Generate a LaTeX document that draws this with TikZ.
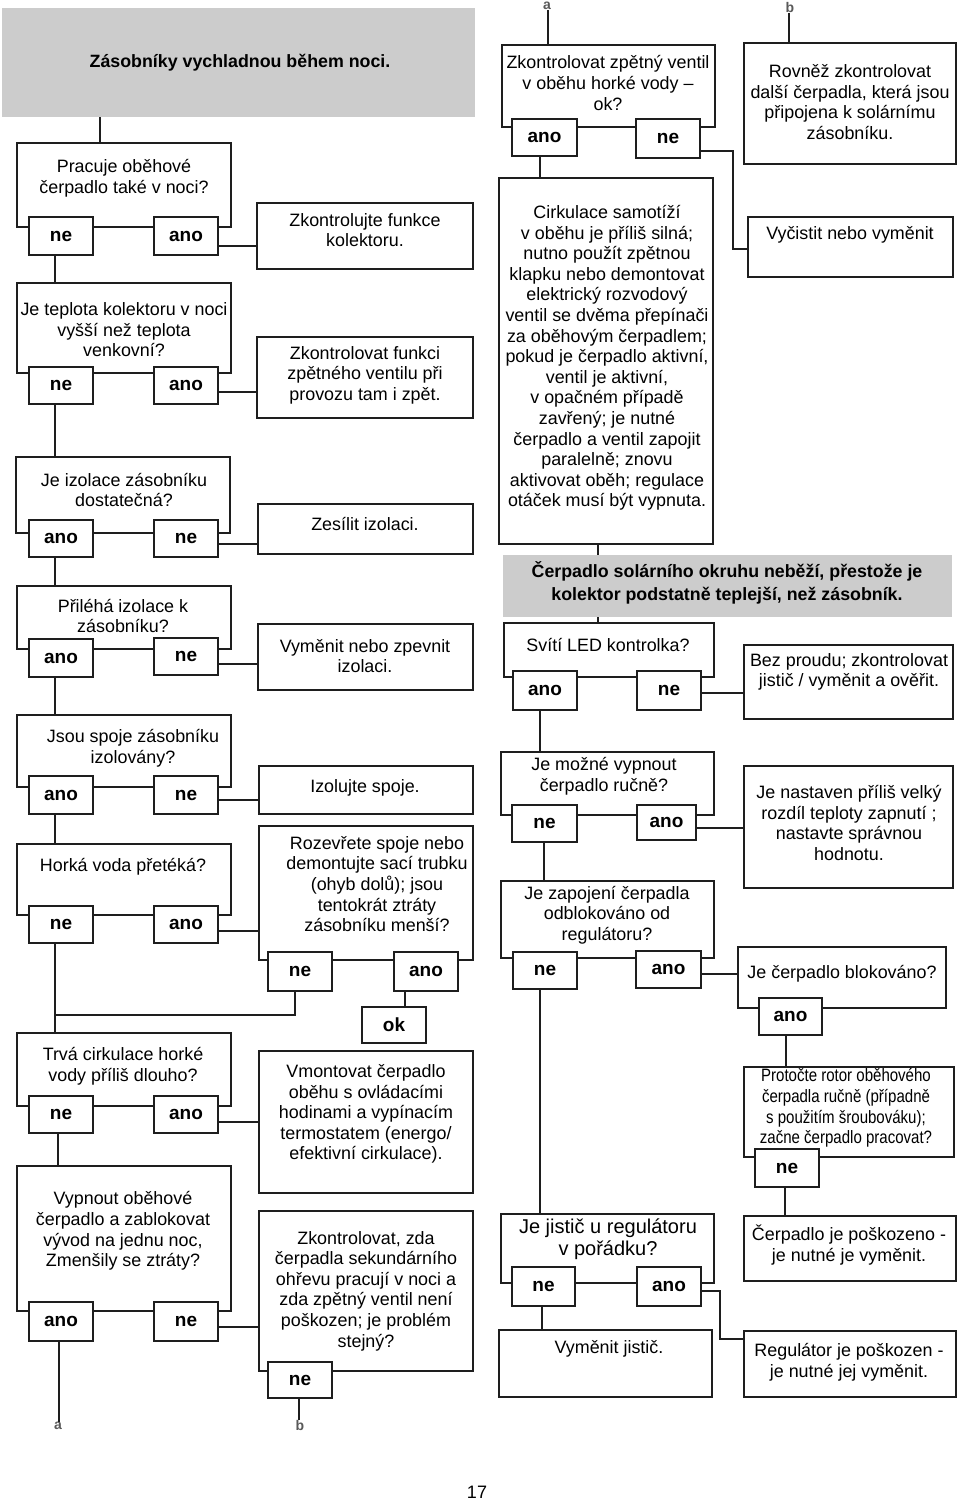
\documentclass[tikz,border=0pt]{standalone}
\usepackage{fontspec}
\setmainfont{Liberation Sans}
\newfontfamily\condfont{Liberation Sans}[FakeStretch=0.84]
\usetikzlibrary{fit}
\definecolor{grayfill}{RGB}{204,204,204}
\definecolor{linec}{RGB}{30,30,30}
\newcommand\LB[6]{%
  \pgfmathsetmacro\lbw{#4-#2}\pgfmathsetmacro\lbh{#5-#3}%
  \pgfmathsetmacro\lbx{(#2+#4)/2}\pgfmathsetmacro\lby{(#3+#5)/2}%
  \node[lbl,minimum width=\lbw pt,minimum height=\lbh pt] (#1) at (\lbx,\lby) {#6};}
\begin{document}
\begin{tikzpicture}[x=1pt,y=-1pt,
  box/.style={draw=linec,line width=1.6pt,inner sep=0pt},
  graybox/.style={fill=grayfill,inner sep=0pt},
  lbl/.style={draw=linec,fill=white,line width=1.6pt,inner sep=0pt,font=\fontsize{19}{22}\selectfont\bfseries},
  txt/.style={align=center,inner sep=0pt,font=\fontsize{17.9}{20.6}\selectfont},
  ttl/.style={align=center,inner sep=0pt,font=\fontsize{17.8}{23}\selectfont\bfseries},
  cond/.style={align=center,inner sep=0pt,font={\condfont\fontsize{17.9}{20.6}\selectfont}},
  big/.style={align=center,inner sep=0pt,font=\fontsize{20}{22}\selectfont},
  conn/.style={draw=linec,line width=1.6pt},
  jmark/.style={inner sep=0pt,text=black!65,font=\fontsize{14}{14}\selectfont\bfseries}
]
\useasboundingbox (0,0) rectangle (960,1503);

% ---------------- main boxes (left column) ----------------
\node[graybox,fit={(2,8)(475,117)}] (G1) {};
\node[ttl] (G1t) at (240,63) {Zásobníky vychladnou během noci.};

\node[box,fit={(17,143)(231,227)}] (B1) {};
\node[txt] (B1t) at (124,178) {Pracuje oběhové\\čerpadlo také v noci?};
\node[box,fit={(257,203)(473,269)}] (Kol) {};
\node[txt] (Kolt) at (365,230) {Zkontrolujte funkce\\kolektoru.};

\node[box,fit={(17,283)(231,373)}] (B2) {};
\node[txt] (B2t) at (124,330) {Je teplota kolektoru v noci\\vyšší než teplota\\venkovní?};
\node[box,fit={(257,337)(473,418)}] (Zpet) {};
\node[txt] (Zpett) at (365,375) {Zkontrolovat funkci\\zpětného ventilu při\\provozu tam i zpět.};

\node[box,fit={(16,457)(230,533)}] (B3) {};
\node[txt] (B3t) at (124,490) {Je izolace zásobníku\\dostatečná?};
\node[box,fit={(258,504)(473,554)}] (Zes) {};
\node[txt] (Zest) at (365,524) {Zesílit izolaci.};

\node[box,fit={(17,586)(231,649)}] (B4) {};
\node[txt] (B4t) at (123,616) {Přiléhá izolace k\\zásobníku?};
\node[box,fit={(258,624)(473,690)}] (Vym) {};
\node[txt] (Vymt) at (365,656) {Vyměnit nebo zpevnit\\izolaci.};

\node[box,fit={(17,715)(231,787)}] (B5) {};
\node[txt] (B5t) at (133,748) {Jsou spoje zásobníku\\izolovány?};
\node[box,fit={(259,766)(473,814)}] (Izo) {};
\node[txt] (Izot) at (365,788) {Izolujte spoje.};

\node[box,fit={(17,844)(231,915)}] (B6) {};
\node[txt] (B6t) at (123,867) {Horká voda přetéká?};
\node[box,fit={(259,826)(473,960)}] (B7) {};
\node[txt] (B7t) at (377,884) {Rozevřete spoje nebo\\demontujte sací trubku\\(ohyb dolů); jsou\\tentokrát ztráty\\zásobníku menší?};

\node[box,fit={(17,1033)(231,1106)}] (B8) {};
\node[txt] (B8t) at (123,1066) {Trvá cirkulace horké\\vody příliš dlouho?};
\node[box,fit={(259,1051)(473,1193)}] (Vmo) {};
\node[txt] (Vmot) at (366,1114) {Vmontovat čerpadlo\\oběhu s ovládacími\\hodinami a vypínacím\\termostatem (energo/\\efektivní cirkulace).};

\node[box,fit={(17,1166)(231,1311)}] (B9) {};
\node[txt] (B9t) at (123,1231) {Vypnout oběhové\\čerpadlo a zablokovat\\vývod na jednu noc,\\Zmenšily se ztráty?};
\node[box,fit={(259,1211)(473,1371)}] (B10) {};
\node[txt] (B10t) at (366,1291) {Zkontrolovat, zda\\čerpadla sekundárního\\ohřevu pracují v noci a\\zda zpětný ventil není\\poškozen; je problém\\stejný?};

% ---------------- main boxes (right column) ----------------
\node[box,fit={(502,45)(715,127)}] (B11) {};
\node[txt] (B11t) at (608,83) {Zkontrolovat zpětný ventil\\v oběhu horké vody –\\ok?};
\node[box,fit={(744,43)(956,164)}] (B14) {};
\node[txt] (B14t) at (850,102) {Rovněž zkontrolovat\\další čerpadla, která jsou\\připojena k solárnímu\\zásobníku.};

\node[box,fit={(499,178)(713,544)}] (B12) {};
\node[txt] (B12t) at (607,358) {Cirkulace samotíží\\v oběhu je příliš silná;\\nutno použít zpětnou\\klapku nebo demontovat\\elektrický rozvodový\\ventil se dvěma přepínači\\za oběhovým čerpadlem;\\pokud je čerpadlo aktivní,\\ventil je aktivní,\\v opačném případě\\zavřený; je nutné\\čerpadlo a ventil zapojit\\paralelně; znovu\\aktivovat oběh; regulace\\otáček musí být vypnuta.};
\node[box,fit={(748,217)(953,277)}] (B13) {};
\node[txt] (B13t) at (850,235) {Vyčistit nebo vyměnit};

\node[graybox,fit={(503,555)(952,617)}] (G2) {};
\node[ttl] (G2t) at (727,583) {Čerpadlo solárního okruhu neběží, přestože je\\kolektor podstatně teplejší, než zásobník.};

\node[box,fit={(504,623)(714,677)}] (B15) {};
\node[txt] (B15t) at (608,645) {Svítí LED kontrolka?};
\node[box,fit={(744,645)(953,719)}] (B16) {};
\node[txt] (B16t) at (849,672) {Bez proudu; zkontrolovat\\jistič / vyměnit a ověřit.};

\node[box,fit={(501,752)(714,815)}] (B17) {};
\node[txt] (B17t) at (604,776) {Je možné vypnout\\čerpadlo ručně?};
\node[box,fit={(744,766)(953,888)}] (B18) {};
\node[txt] (B18t) at (849,823) {Je nastaven příliš velký\\rozdíl teploty zapnutí ;\\nastavte správnou\\hodnotu.};

\node[box,fit={(501,881)(714,958)}] (B19) {};
\node[txt] (B19t) at (607,915) {Je zapojení čerpadla\\odblokováno od\\regulátoru?};
\node[box,fit={(738,947)(946,1008)}] (B20) {};
\node[txt] (B20t) at (842,974) {Je čerpadlo blokováno?};

\node[box,fit={(744,1067)(954,1157)}] (B21) {};
\node[cond] (B21t) at (846,1108) {Protočte rotor oběhového\\čerpadla ručně (případně\\s použitím šroubováku);\\začne čerpadlo pracovat?};
\node[box,fit={(744,1216)(956,1281)}] (B22) {};
\node[txt] (B22t) at (849,1245) {Čerpadlo je poškozeno -\\je nutné je vyměnit.};

\node[box,fit={(501,1214)(714,1283)}] (B23) {};
\node[big] (B23t) at (608,1239) {Je jistič u regulátoru\\v pořádku?};
\node[box,fit={(499,1330)(712,1397)}] (B24) {};
\node[txt] (B24t) at (609,1349) {Vyměnit jistič.};
\node[box,fit={(744,1331)(956,1397)}] (B25) {};
\node[txt] (B25t) at (849,1362) {Regulátor je poškozen -\\je nutné jej vyměnit.};

% ---------------- answer labels ----------------
\LB{L1ne}{29}{217}{93}{255}{ne}
\LB{L1ano}{154}{217}{218}{255}{ano}
\LB{L2ne}{29}{367}{93}{404}{ne}
\LB{L2ano}{154}{367}{218}{404}{ano}
\LB{L3ano}{29}{520}{93}{557}{ano}
\LB{L3ne}{154}{520}{218}{557}{ne}
\LB{L4ano}{29}{639}{93}{677}{ano}
\LB{L4ne}{154}{638}{218}{675}{ne}
\LB{L5ano}{29}{776}{93}{814}{ano}
\LB{L5ne}{154}{776}{218}{814}{ne}
\LB{L6ne}{29}{906}{93}{943}{ne}
\LB{L6ano}{154}{906}{218}{943}{ano}
\LB{L7ne}{268}{952}{332}{991}{ne}
\LB{L7ano}{394}{952}{458}{991}{ano}
\LB{ok}{362}{1007}{426}{1043}{ok}
\LB{L8ne}{29}{1096}{93}{1133}{ne}
\LB{L8ano}{154}{1096}{218}{1133}{ano}
\LB{L9ano}{29}{1302}{93}{1341}{ano}
\LB{L9ne}{154}{1302}{218}{1341}{ne}
\LB{L10ne}{268}{1362}{332}{1398}{ne}

\LB{L11ano}{512}{119}{577}{156}{ano}
\LB{L11ne}{636}{119}{700}{158}{ne}
\LB{L15ano}{513}{671}{577}{710}{ano}
\LB{L15ne}{637}{671}{701}{710}{ne}
\LB{L17ne}{512}{805}{577}{842}{ne}
\LB{L17ano}{637}{805}{696}{840}{ano}
\LB{L19ne}{513}{952}{577}{989}{ne}
\LB{L19ano}{636}{951}{701}{988}{ano}
\LB{L20ano}{759}{998}{822}{1035}{ano}
\LB{L21ne}{755}{1149}{819}{1187}{ne}
\LB{L23ne}{512}{1267}{575}{1306}{ne}
\LB{L23ano}{637}{1267}{701}{1306}{ano}

% ---------------- jump marks ----------------
\node[jmark,anchor=north] (aTop) at (547,2) {a};
\node[jmark,anchor=north] (bTop) at (790,2) {b};
\node[jmark,anchor=north] (aBot) at (58,1422) {a};
\node[jmark,anchor=north] (bBot) at (300,1420) {b};
\node[inner sep=0pt,font=\fontsize{18}{18}\selectfont] (page) at (477,1492) {17};
\coordinate (J) at (55,1015);

% ---------------- connectors (left) ----------------
\draw[conn] (G1.south -| 100,0) -- (B1.north -| 100,0);
\draw[conn] (L1ano.east |- 0,246) -- (Kol.west |- 0,246);
\draw[conn] (L1ne.south -| 55,0) -- (B2.north -| 55,0);
\draw[conn] (L2ano.east |- 0,392) -- (Zpet.west |- 0,392);
\draw[conn] (L2ne.south -| 55,0) -- (B3.north -| 55,0);
\draw[conn] (L3ne.east |- 0,544) -- (Zes.west |- 0,544);
\draw[conn] (L3ano.south -| 55,0) -- (B4.north -| 55,0);
\draw[conn] (L4ne.east |- 0,664) -- (Vym.west |- 0,664);
\draw[conn] (L4ano.south -| 55,0) -- (B5.north -| 55,0);
\draw[conn] (L5ne.east |- 0,800) -- (Izo.west |- 0,800);
\draw[conn] (L5ano.south -| 55,0) -- (B6.north -| 55,0);
\draw[conn] (L6ano.east |- 0,931) -- (B7.west |- 0,931);
\draw[conn] (L6ne.south -| 55,0) -- (B8.north -| 55,0);
\draw[conn] (L7ne.south -| 295,0) |- (J);
\draw[conn] (L7ano.south -| 405,0) -- (ok.north -| 405,0);
\draw[conn] (L8ano.east |- 0,1122) -- (Vmo.west |- 0,1122);
\draw[conn] (L8ne.south -| 58,0) -- (B9.north -| 58,0);
\draw[conn] (L9ano.south -| 59,0) -- (aBot.north -| 59,0);
\draw[conn] (L9ne.east |- 0,1327) -- (B10.west |- 0,1327);
\draw[conn] (L10ne.south -| 299,0) -- (bBot.north -| 299,0);

% ---------------- connectors (right) ----------------
\draw[conn] (aTop.south -| 548,0) -- (B11.north -| 548,0);
\draw[conn] (bTop.south -| 789,0) -- (B14.north -| 789,0);
\draw[conn] (L11ano.south -| 540,0) -- (B12.north -| 540,0);
\draw[conn] (L11ne.east |- 0,151) -| (733,200) |- (B13.west |- 0,249);
\draw[conn] (B12.south -| 598,0) -- (G2.north -| 598,0);
\draw[conn] (G2.south -| 598,0) -- (B15.north -| 598,0);
\draw[conn] (L15ne.east |- 0,693) -- (B16.west |- 0,693);
\draw[conn] (L15ano.south -| 540,0) -- (B17.north -| 540,0);
\draw[conn] (L17ano.east |- 0,828) -- (B18.west |- 0,828);
\draw[conn] (L17ne.south -| 544,0) -- (B19.north -| 544,0);
\draw[conn] (L19ano.east |- 0,974) -- (B20.west |- 0,974);
\draw[conn] (L20ano.south -| 786,0) -- (B21.north -| 786,0);
\draw[conn] (L21ne.south -| 785,0) -- (B22.north -| 785,0);
\draw[conn] (L19ne.south -| 540,0) -- (B23.north -| 540,0);
\draw[conn] (L23ne.south -| 542,0) -- (B24.north -| 542,0);
\draw[conn] (L23ano.east |- 0,1291) -| (720,1310) |- (B25.west |- 0,1339);
\end{tikzpicture}
\end{document}
